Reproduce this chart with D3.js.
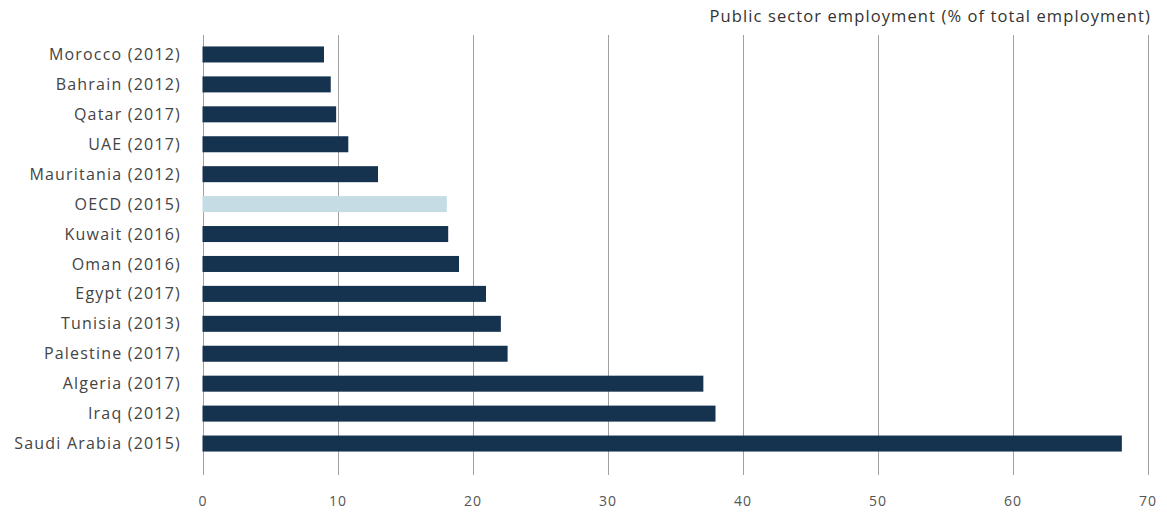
<!DOCTYPE html>
<html>
<head>
<meta charset="utf-8">
<script src="https://cdn.jsdelivr.net/npm/d3@7"></script>
<style>
  html, body { margin: 0; padding: 0; background: #ffffff; }
  svg { display: block; }
  text { font-family: "Open Sans", "Noto Sans", sans-serif; }
</style>
</head>
<body>
<svg id="chart" width="1167" height="515"></svg>
<script>
const categories = [
  "Morocco (2012)", "Bahrain (2012)", "Qatar (2017)", "UAE (2017)",
  "Mauritania (2012)", "OECD (2015)", "Kuwait (2016)", "Oman (2016)",
  "Egypt (2017)", "Tunisia (2013)", "Palestine (2017)", "Algeria (2017)",
  "Iraq (2012)", "Saudi Arabia (2015)"
];
const values = [9.0, 9.5, 9.9, 10.8, 13.0, 18.1, 18.2, 19.0, 21.0, 22.1, 22.6, 37.1, 38.0, 68.1];
const highlight = ["OECD (2015)"];
const xTicks = [0, 10, 20, 30, 40, 50, 60, 70];
const axisTitle = "Public sector employment (% of total employment)";

const svg = d3.select("#chart");
const x = d3.scaleLinear().domain([0, 70]).range([202.5, 1147.5]);
const y = d3.scaleBand().domain(categories).range([39.5, 458.5])
  .paddingInner(0.465).paddingOuter(0.2325);

// gridlines
svg.append("g").selectAll("line").data(xTicks).join("line")
  .attr("x1", d => Math.round(x(d)) + 0.5).attr("x2", d => Math.round(x(d)) + 0.5)
  .attr("y1", 35).attr("y2", 475)
  .attr("stroke", "#a0a0a0").attr("stroke-width", 1);

// bars
svg.append("g").selectAll("rect").data(categories).join("rect")
  .attr("x", x(0))
  .attr("y", d => y(d))
  .attr("width", (d, i) => x(values[i]) - x(0))
  .attr("height", y.bandwidth())
  .attr("fill", d => highlight.includes(d) ? "#c6dce4" : "#15334f");

// category labels
svg.append("g").selectAll("text").data(categories).join("text")
  .attr("x", 181)
  .attr("y", d => y(d) + y.bandwidth() / 2)
  .attr("dy", "0.35em")
  .attr("text-anchor", "end")
  .attr("font-size", 16)
  .attr("letter-spacing", 1.2)
  .attr("fill", "#444")
  .text(d => d);

// x axis tick labels
const xAxis = d3.axisBottom(x).tickValues(xTicks).tickSize(0).tickPadding(0);
const gx = svg.append("g").attr("transform", "translate(0,496)").call(xAxis);
gx.select(".domain").remove();
gx.selectAll("text").attr("font-size", 14).attr("fill", "#555")
  .attr("letter-spacing", 1)
  .attr("font-family", "'Open Sans', sans-serif");

// axis title
svg.append("text")
  .attr("x", 1151).attr("y", 16).attr("dy", "0.35em")
  .attr("text-anchor", "end")
  .attr("font-size", 16.5)
  .attr("letter-spacing", 1.1)
  .attr("fill", "#333")
  .text(axisTitle);
</script>
</body>
</html>
